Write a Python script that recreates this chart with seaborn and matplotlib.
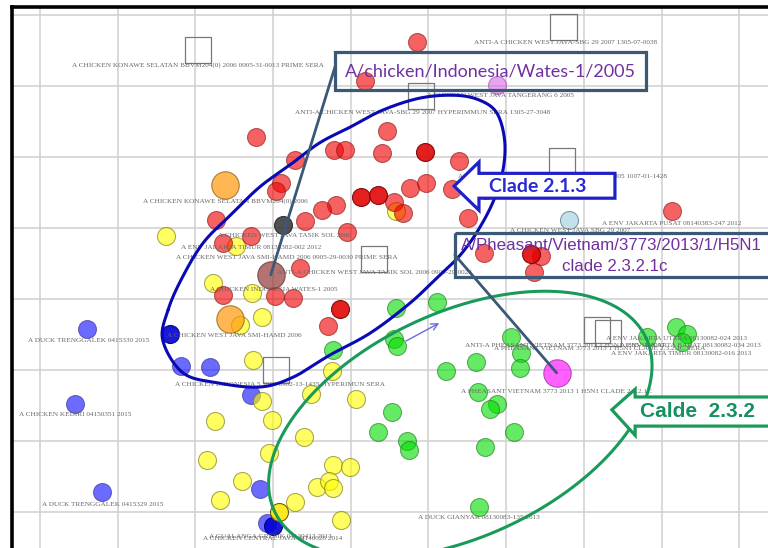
import numpy as np
import pandas as pd
import matplotlib
matplotlib.use("Agg")
import matplotlib.pyplot as plt
from matplotlib.patches import Polygon, Rectangle
import seaborn as sns

# ---- antigen positions (antigenic units, map y grows downward) ----
red_x = [4.85, 4.18, 2.78, 4.47, 3.78, 3.93, 4.40, 3.28, 5.39, 3.10, 3.04, 4.76,
         4.97, 5.30, 5.74, 4.56, 4.67, 3.81, 3.63, 5.51, 2.27, 3.41, 3.95, 2.72,
         2.36, 3.35, 2.36, 3.02, 3.26, 3.71, 5.71, 6.45, 6.36, 8.13]
red_y = [0.38, 0.93, 1.72, 1.63, 1.90, 1.90, 1.94, 2.04, 2.06, 2.37, 2.48, 2.44,
         2.37, 2.45, 2.46, 2.63, 2.79, 2.68, 2.75, 2.86, 2.89, 2.90, 3.06, 3.11,
         3.21, 3.56, 3.94, 3.96, 3.99, 4.38, 3.35, 3.39, 3.62, 2.76]
darkred_x = [4.95, 4.13, 4.35, 3.86, 6.32]
darkred_y = [1.93, 2.56, 2.54, 4.14, 3.37]

yellow_x = [1.62, 2.52, 4.58, 2.23, 2.73, 2.57, 2.86, 2.74, 3.76, 2.86, 3.49, 4.07, 2.25,
            2.99, 3.40, 2.95, 2.15, 2.60, 3.77, 3.99, 3.56, 3.72, 3.77, 2.32, 3.28, 3.87]
yellow_y = [3.11, 3.25, 2.76, 3.77, 3.92, 4.37, 4.25, 4.86, 5.01, 5.44, 5.34, 5.41, 5.72,
            5.70, 5.94, 6.17, 6.27, 6.56, 6.34, 6.37, 6.65, 6.56, 6.66, 6.83, 6.86, 7.11]
gold_x = [3.08]
gold_y = [7.00]

blue_x = [0.60, 0.45, 0.80, 1.81, 2.19, 2.72, 2.83, 2.92]
blue_y = [4.42, 5.48, 6.72, 4.94, 4.96, 5.35, 6.68, 7.15]
darkblue_x = [1.67, 3.00]
darkblue_y = [4.49, 7.20]

green_x = [3.77, 4.58, 5.11, 4.56, 4.59, 6.06, 6.19, 6.18, 5.61, 5.23, 5.64, 5.88,
           5.79, 4.53, 4.35, 4.72, 4.75, 6.10, 5.73, 5.65, 7.81, 8.19, 8.33, 8.26]
green_y = [4.72, 4.13, 4.04, 4.56, 4.66, 4.54, 4.76, 4.97, 4.89, 5.01, 5.31, 5.48,
           5.55, 5.59, 5.87, 6.00, 6.13, 5.87, 6.08, 6.93, 4.54, 4.39, 4.49, 4.61]

orange_x = [2.38, 2.45]
orange_y = [2.39, 4.28]
wates_x = [2.97]          # A/chicken/Indonesia/Wates-1/2005
wates_y = [3.66]
pheasant_x = [6.65]       # A/Pheasant/Vietnam/3773/2013
pheasant_y = [5.04]
gray_x = [3.13]
gray_y = [2.96]
lilac_x = [5.88]
lilac_y = [0.99]
paleblue_x = [6.81]
paleblue_y = [2.89]

# ---- sera positions ----
sera_x = [2.03, 6.74, 4.90, 6.72, 4.30, 3.04, 7.17, 7.31]
sera_y = [0.49, 0.17, 1.14, 2.06, 3.44, 5.00, 4.44, 4.48]

# ---- strain / serum names ----
label_text = [
    "A CHICKEN KONAWE SELATAN BBVM204(0) 2006 0905-31-0013 PRIME SERA",
    "ANTI-A CHICKEN WEST JAVA-SBG 29 2007 1305-07-0038",
    "A CHICKEN WEST JAVA TANGERANG 6 2005",
    "ANTI-A CHICKEN WEST JAVA-SBG 29 2007 HYPERIMMUN SERA 1305-27-3048",
    "ANTI-A CHICKEN WEST JAVA TANGERANG 6 2005 1007-01-1428",
    "A ENV JAKARTA PUSAT 08140383-247 2012",
    "A CHICKEN WEST JAVA SBG 29 2007",
    "A CHICKEN KONAWE SELATAN BBVM204(0) 2006",
    "A CHICKEN WEST JAVA TASIK SOL 2006",
    "A ENV JAKARTA TIMUR 08130382-002 2012",
    "A CHICKEN WEST JAVA SMI-HAMD 2006 0905-29-0030 PRIME SERA",
    "ANTI-A CHICKEN WEST JAVA TASIK SOL 2006 0905-29-0025",
    "A CHICKEN INDONESIA WATES-1 2005",
    "A CHICKEN WEST JAVA SMI-HAMD 2006",
    "A DUCK TRENGGALEK 0415330 2015",
    "A CHICKEN INDONESIA 5 2007 0902-13-1435 HYPERIMUN SERA",
    "A CHICKEN KEDIRI 04150351 2015",
    "A DUCK TRENGGALEK 0415329 2015",
    "A CHICKEN CENTRAL JAVA 04140028 2014",
    "A GUALANGA GRESIK 04130413 2013",
    "A PHEASANT VIETNAM 3773 2013 1 H5N1 CLADE 2.3.2.1C",
    "ANTI-A PHEASANT VIETNAM 3773 2013 1 H5N1 1305-11-0097",
    "A PHEASANT VIETNAM 3773 2013 1 H5N1 CLADE 2.3.2.1C SERA",
    "A ENV JAKARTA UTARA 08130082-024 2013",
    "A ENV JAKARTA BARAT 08130082-034 2013",
    "A ENV JAKARTA TIMUR 08130082-016 2013",
    "A DUCK GIANYAR 08130083-135 2013",
]
label_x = [2.03, 6.76, 5.92, 4.93, 6.73, 8.13, 6.82, 2.38, 3.14, 2.72, 3.18, 4.30, 3.01, 2.50,
           0.62, 3.09, 0.45, 0.81, 3.00, 2.96, 6.65, 6.76, 7.21, 8.19, 8.37, 8.25, 5.65]
label_y = [0.70, 0.39, 1.14, 1.37, 2.28, 2.93, 3.03, 2.62, 3.11, 3.28, 3.41, 3.63, 3.86, 4.51,
           4.58, 5.20, 5.63, 6.89, 7.37, 7.34, 5.30, 4.65, 4.69, 4.55, 4.66, 4.77, 7.08]

# ---- clade outlines ----
c213_x = [1.65, 1.83, 2.10, 2.45, 2.83, 3.22, 3.60, 3.99, 4.41, 4.89, 5.34, 5.66, 5.88, 5.98,
          5.96, 5.84, 5.64, 5.41, 5.15, 4.76, 4.25, 3.73, 3.26, 2.83, 2.28, 1.84, 1.58]
c213_y = [4.15, 3.70, 3.21, 2.82, 2.42, 2.11, 1.80, 1.58, 1.34, 1.17, 1.13, 1.20, 1.38, 1.76,
          2.18, 2.61, 3.03, 3.38, 3.66, 4.06, 4.48, 4.79, 5.10, 5.24, 5.18, 5.04, 4.58]
c232_center = (5.41, 5.77)


def closed_spline(xs, ys, n=24):
    pts = np.column_stack([xs, ys])
    m = len(pts)
    t = np.linspace(0, 1, n, endpoint=False)[:, None]
    segs = []
    for i in range(m):
        p0, p1, p2, p3 = pts[i - 1], pts[i], pts[(i + 1) % m], pts[(i + 2) % m]
        segs.append(0.5 * (2 * p1 + (-p0 + p2) * t + (2 * p0 - 5 * p1 + 4 * p2 - p3) * t ** 2
                           + (-p0 + 3 * p1 - 3 * p2 + p3) * t ** 3))
    out = np.vstack(segs)
    return np.vstack([out, out[:1]])


def screen_ellipse(ax, cx, cy, a_px, b_px, angle):
    t = np.linspace(0, 2 * np.pi, 300)
    c = ax.transData.transform((cx, cy))
    th = np.deg2rad(angle)
    xs = c[0] + a_px * np.cos(t) * np.cos(th) - b_px * np.sin(t) * np.sin(th)
    ys = c[1] + a_px * np.cos(t) * np.sin(th) + b_px * np.sin(t) * np.cos(th)
    return ax.transData.inverted().transform(np.column_stack([xs, ys]))


sns.set_theme(style="white")
fig = plt.figure(figsize=(7.68, 5.48), dpi=100)
ax = fig.add_axes([12 / 768, 0.0, 1 - 12 / 768, 1 - 7 / 548])
ax.set_xlim(-0.36, 9.37)
ax.set_ylim(7.507, -0.113)
ax.set_xticks(np.arange(0, 10))
ax.set_yticks(np.arange(0, 8))
ax.tick_params(length=0, labelbottom=False, labelleft=False)
ax.grid(True, color="#cfcfcf", linewidth=1.1)
ax.set_axisbelow(True)
for side in ("right", "bottom"):
    ax.spines[side].set_visible(False)
for side in ("left", "top"):
    ax.spines[side].set_color("black")
    ax.spines[side].set_linewidth(2.6)

# sera as open squares
sns.scatterplot(x=sera_x, y=sera_y, marker="s", s=360, facecolor="none",
                edgecolor="#787878", linewidth=0.9, ax=ax, zorder=2, legend=False)

# strain names
for txt, lx, ly in zip(label_text, label_x, label_y):
    ax.text(lx, ly, txt, ha="center", va="center", fontsize=5.2,
            family="Liberation Serif", color="#666666", zorder=3.5)

small = 168
big = 390
groups = [
    (blue_x, blue_y, "#0000ff", "#2a2a90", 0.58, small),
    (darkblue_x, darkblue_y, "#0000d8", "#000070", 0.9, small),
    (yellow_x, yellow_y, "#ffff00", "#7a7410", 0.62, small),
    (gold_x, gold_y, "#ffe600", "#5a5000", 0.88, small),
    (orange_x, orange_y, "#ff9a10", "#8a5a10", 0.72, big),
    (red_x, red_y, "#f20000", "#8a1a1a", 0.62, small),
    (darkred_x, darkred_y, "#e00000", "#700000", 0.88, small),
    (green_x, green_y, "#00dd00", "#1a7a1a", 0.6, small),
    (wates_x, wates_y, "#9a4444", "#603030", 0.75, big),
    (gray_x, gray_y, "#333333", "#222222", 0.85, small),
    (pheasant_x, pheasant_y, "#ff33ff", "#a030a0", 0.78, big),
    (lilac_x, lilac_y, "#dd66ee", "#9a50a0", 0.6, small),
    (paleblue_x, paleblue_y, "#c4e0ea", "#7a9aa8", 1.0, small),
]
for gx, gy, fc, ec, al, sz in groups:
    df = pd.DataFrame({"x": gx, "y": gy})
    sns.scatterplot(data=df, x="x", y="y", color=fc, edgecolor=ec, linewidth=0.8,
                    alpha=al, s=sz, ax=ax, zorder=3, legend=False)
ax.set_xlabel("")
ax.set_ylabel("")

# clade outlines
outline = closed_spline(c213_x, c213_y)
ax.plot(outline[:, 0], outline[:, 1], color="#0a0ab4", linewidth=2.2, zorder=4)
ell = screen_ellipse(ax, c232_center[0], c232_center[1], 205, 112, 25)
ax.plot(ell[:, 0], ell[:, 1], color="#1a9a5a", linewidth=2.2, zorder=4, clip_on=False)

# small procrustes arrow
ax.annotate("", xy=(5.17, 4.32), xytext=(4.68, 4.61),
            arrowprops=dict(arrowstyle="->", color="#6a6ae0", lw=1.0), zorder=4)

# callout: Wates-1/2005
box_c = "#3b5876"
ax.plot([3.80, wates_x[0]], [0.72, wates_y[0]], color=box_c, linewidth=2.0, zorder=5)
ax.add_patch(Rectangle((3.80, 0.52), 4.00, 0.54, fill=False, edgecolor=box_c,
                       linewidth=2.3, zorder=5))
ax.text(5.80, 0.80, "A/chicken/Indonesia/Wates-1/2005", ha="center", va="center",
        fontsize=13, family="Lato", color="#7030a0", zorder=6)

# callout: Pheasant/Vietnam
ax.plot([5.34, pheasant_x[0]], [3.38, pheasant_y[0]], color=box_c, linewidth=2.0, zorder=5)
ax.add_patch(Rectangle((5.34, 3.07), 4.3, 0.62, fill=False, edgecolor=box_c,
                       linewidth=2.3, zorder=5, clip_on=False))
ax.text(7.36, 3.24, "A/Pheasant/Vietnam/3773/2013/1/H5N1", ha="center", va="center",
        fontsize=12.2, family="Liberation Sans", color="#7030a0", zorder=6)
ax.text(7.40, 3.54, "clade 2.3.2.1c", ha="center", va="center",
        fontsize=12.2, family="Liberation Sans", color="#7030a0", zorder=6)

# arrow callout: clade 2.1.3
arrow213 = [(5.33, 2.41), (5.65, 2.07), (5.65, 2.23), (7.40, 2.23), (7.40, 2.58),
            (5.65, 2.58), (5.65, 2.75)]
ax.add_patch(Polygon(arrow213, closed=True, facecolor="white", edgecolor="#2020c8",
                     linewidth=2.3, zorder=5))
ax.text(6.41, 2.42, "Clade 2.1.3", ha="center", va="center", fontsize=14,
        family="Lato", weight="bold", color="#2a2ad0", zorder=6)

# arrow callout: clade 2.3.2
arrow232 = [(7.36, 5.56), (7.66, 5.27), (7.66, 5.38), (9.50, 5.38), (9.50, 5.79),
            (7.66, 5.79), (7.66, 5.92)]
ax.add_patch(Polygon(arrow232, closed=True, facecolor="white", edgecolor="#1a9a5a",
                     linewidth=2.3, zorder=5, clip_on=False))
ax.text(8.46, 5.58, "Calde  2.3.2", ha="center", va="center", fontsize=15,
        family="Liberation Sans", weight="bold", color="#159060", zorder=6)

fig.savefig("out.png", dpi=100)
